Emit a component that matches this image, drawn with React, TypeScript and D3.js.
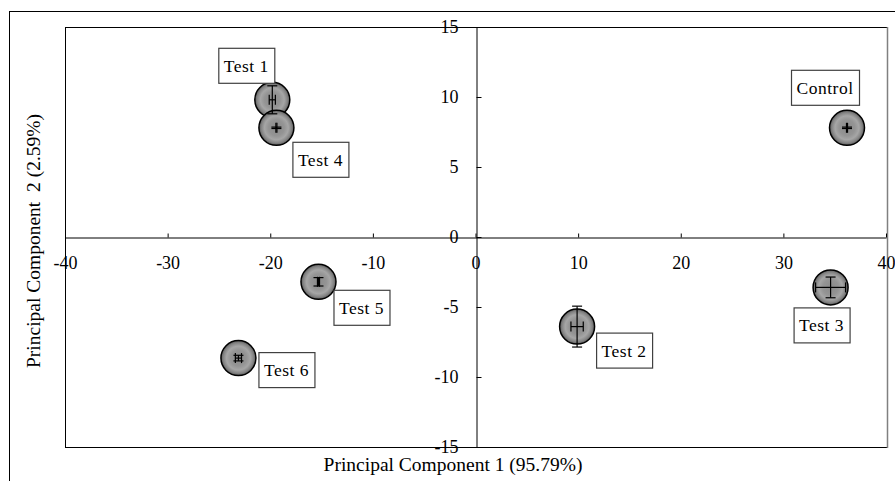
import React, { useEffect, useRef } from 'react';
import * as d3 from 'd3';

// ---------------- data ----------------
const samples = ['Test 1', 'Test 4', 'Control', 'Test 3', 'Test 2', 'Test 5', 'Test 6'];
const pc1 = [-19.8, -19.4, 36.2, 34.6, 9.9, -15.3, -23.1];
const pc2 = [9.8, 7.8, 7.8, -3.6, -6.4, -3.2, -8.65];
const pc1Err = [0.3, 0.05, 0.05, 1.46, 0.6, 0.1, 0.3];
const pc2Err = [1.0, 0.05, 0.05, 0.74, 1.46, 0.3, 0.2];
const xTicks = [-40, -30, -20, -10, 0, 10, 20, 30, 40];
const yTicks = [-15, -10, -5, 0, 5, 10, 15];
const xTitle = 'Principal Component 1 (95.79%)';
const yTitle = 'Principal Component  2 (2.59%)';

// label box placement (pixel offset of box centre from its point)
const labelDx = [-26, 44, -22, -9, 47, 43, 48];
const labelDy = [-34, 32, -40, 38, 24, 26, 12];

export default function App() {
  const ref = useRef<SVGSVGElement>(null);
  const width = 895;
  const height = 481;
  const plot = { left: 65, right: 886, top: 27, bottom: 447 };
  const font = '"Liberation Serif", "Times New Roman", serif';

  useEffect(() => {
    const svg = d3.select(ref.current);
    svg.selectAll('*').remove();

    const x = d3.scaleLinear().domain([-40, 40]).range([plot.left, plot.right]);
    const y = d3.scaleLinear().domain([-15, 15]).range([plot.bottom, plot.top]);

    // gradient for the bubbles
    const grad = svg.append('defs').append('radialGradient').attr('id', 'ball');
    [
      ['0%', '#8a8a8a'],
      ['45%', '#949494'],
      ['68%', '#a6a6a6'],
      ['86%', '#858585'],
      ['100%', '#5c5c5c'],
    ].forEach(([o, c]) => grad.append('stop').attr('offset', o).attr('stop-color', c));

    // chart area frame (runs past the window)
    svg.append('rect')
      .attr('x', 9.5).attr('y', 11.5)
      .attr('width', 920).attr('height', 520)
      .attr('fill', '#fff').attr('stroke', '#000');

    // plot area frame
    svg.append('rect')
      .attr('x', plot.left + 0.5).attr('y', plot.top + 0.5)
      .attr('width', plot.right - plot.left + 1).attr('height', plot.bottom - plot.top)
      .attr('fill', '#fff').attr('stroke', '#000');
    svg.append('line')
      .attr('x1', plot.right + 1.5).attr('x2', plot.right + 1.5)
      .attr('y1', plot.top).attr('y2', plot.bottom + 1)
      .attr('stroke', '#808080').attr('stroke-width', 1.5);

    // axes crossing at zero
    const xAxis = d3.axisBottom(x)
      .tickValues(xTicks)
      .tickFormat((d) => String(d))
      .tickSize(-4)
      .tickSizeOuter(0)
      .tickPadding(19);
    const yAxis = d3.axisLeft(y)
      .tickValues(yTicks)
      .tickFormat((d) => String(d))
      .tickSize(-5)
      .tickSizeOuter(0)
      .tickPadding(18);

    const gx = svg.append('g')
      .attr('transform', `translate(0,${Math.round(y(0)) + 0.5})`)
      .call(xAxis);
    const gy = svg.append('g')
      .attr('transform', `translate(${Math.round(x(0)) + 0.5},0)`)
      .call(yAxis);

    [gx, gy].forEach((g) => {
      g.selectAll('.domain').attr('stroke', '#000');
      g.selectAll('.tick line').attr('stroke', '#000');
      g.selectAll('.tick text')
        .attr('fill', '#000')
        .style('font-family', font)
        .style('font-size', '18px');
    });

    // bubbles
    svg.append('g')
      .selectAll('circle')
      .data(samples)
      .join('circle')
      .attr('cx', (d, i) => x(pc1[i]))
      .attr('cy', (d, i) => y(pc2[i]))
      .attr('r', 17.5)
      .attr('fill', 'url(#ball)')
      .attr('stroke', '#000')
      .attr('stroke-width', 1.5);

    // error bars
    const cap = 5;
    const eb = svg.append('g').attr('stroke', '#000').attr('stroke-width', 1.2);
    samples.forEach((s, i) => {
      const cx = x(pc1[i]);
      const cy = y(pc2[i]);
      const x0 = x(pc1[i] - pc1Err[i]);
      const x1 = x(pc1[i] + pc1Err[i]);
      const y0 = y(pc2[i] - pc2Err[i]);
      const y1 = y(pc2[i] + pc2Err[i]);
      eb.append('line').attr('x1', x0).attr('x2', x1).attr('y1', cy).attr('y2', cy);
      eb.append('line').attr('x1', x0).attr('x2', x0).attr('y1', cy - cap).attr('y2', cy + cap);
      eb.append('line').attr('x1', x1).attr('x2', x1).attr('y1', cy - cap).attr('y2', cy + cap);
      eb.append('line').attr('x1', cx).attr('x2', cx).attr('y1', y0).attr('y2', y1);
      eb.append('line').attr('x1', cx - cap).attr('x2', cx + cap).attr('y1', y0).attr('y2', y0);
      eb.append('line').attr('x1', cx - cap).attr('x2', cx + cap).attr('y1', y1).attr('y2', y1);
    });

    // label boxes
    const labels = svg.append('g')
      .selectAll('g')
      .data(samples)
      .join('g')
      .attr('transform', (d, i) =>
        `translate(${x(pc1[i]) + labelDx[i]},${y(pc2[i]) + labelDy[i]})`);

    const boxes = labels.append('rect')
      .attr('fill', '#fff')
      .attr('stroke', '#404040')
      .attr('stroke-width', 1.2);

    const texts = labels.append('text')
      .text((d) => d)
      .attr('text-anchor', 'middle')
      .attr('y', 6)
      .style('font-family', font)
      .style('font-size', '17.5px')
      .style('letter-spacing', '0.5px')
      .attr('fill', '#000');

    texts.each(function (d, i) {
      const w = (this as SVGTextElement).getComputedTextLength();
      const bw = Math.round(w + 11);
      d3.select(boxes.nodes()[i])
        .attr('x', -bw / 2 + 0.5)
        .attr('y', -17.5)
        .attr('width', bw)
        .attr('height', 35);
    });

    // axis titles
    svg.append('text')
      .attr('x', 453).attr('y', 471)
      .attr('text-anchor', 'middle')
      .style('font-family', font)
      .style('font-size', '19.5px')
      .text(xTitle);

    svg.append('text')
      .attr('transform', 'translate(40,241) rotate(-90)')
      .attr('text-anchor', 'middle')
      .style('font-family', font)
      .style('font-size', '19.5px')
      .style('white-space', 'pre')
      .text(yTitle);
  }, []);

  return (
    <svg
      ref={ref}
      width={width}
      height={height}
      style={{ position: 'absolute', left: 0, top: 0, background: '#fff' }}
    />
  );
}
